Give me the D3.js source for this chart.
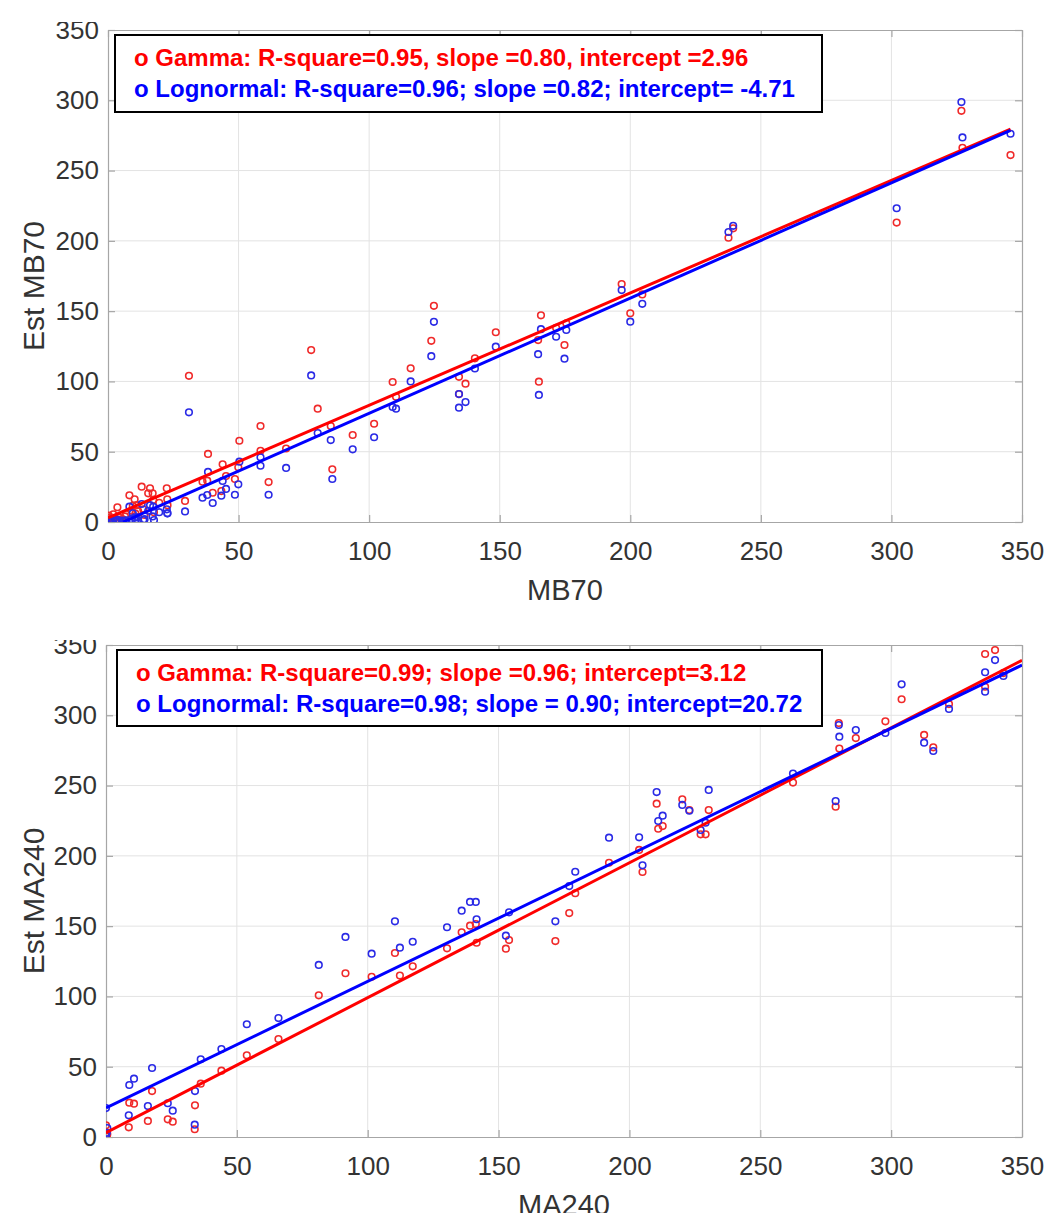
<!DOCTYPE html>
<html>
<head>
<meta charset="utf-8">
<script src="https://cdn.jsdelivr.net/npm/d3@7"></script>
<style>
  body { margin: 0; background: #fff; }
  svg { display: block; font-family: "Liberation Sans", Arial, sans-serif; }
</style>
</head>
<body>
<svg id="chart" width="1050" height="1213"></svg>
<script>
// ---- data ----
let ticks = [0, 50, 100, 150, 200, 250, 300, 350];

// top panel: MB70 observed vs estimates
let mb70 = [0.3, 0.5, 1, 1.5, 2, 3, 3.6, 4.5, 5.5, 6.5, 7, 8.2, 9, 9.5, 10.2, 10.5, 11, 11.5, 12.9, 13.5,
  14, 15.4, 16.1, 17.1, 17.3, 17.6, 19.6, 22.5, 22.7, 22.8, 29.5, 31, 36.2, 38, 38.3, 40.1, 43.9, 45.2,
  43.4, 48.6, 49.9, 50.3, 58.4, 58.4, 61.5, 68.2, 77.8, 80.3, 85.3, 85.9, 93.7, 101.9, 109, 110.3,
  115.9, 123.8, 124.8, 134.4, 134.4, 136.9, 140.5, 148.5, 164.7, 165, 165.8, 171.6, 174.8, 175.5,
  196.7, 200, 204.6, 237.6, 239.4, 302, 326.8, 327.2, 345.6];
let mb70Gamma = [4.5, 3, 2, 1.2, 5.5, 1.5, 10.5, 3, 2, 4, 5.5, 19, 8, 11.4, 16.1, 6, 12, 8, 25.1, 9,
  5, 20.4, 24, 20.4, 15.6, 7, 13.7, 24, 16.1, 12, 15, 104, 28.7, 29.4, 48.4, 20.8, 41, 32.7,
  22, 30.6, 38.9, 57.8, 68.3, 50.7, 28.4, 52.3, 122.3, 80.6, 68.3, 37.5, 61.9, 69.9, 99.6, 89.1,
  109.3, 128.9, 153.8, 103.3, 91, 98.4, 116.4, 135, 129.4, 99.8, 147, 138.2, 125.9, 141.4,
  169.3, 148.5, 161.9, 202.2, 208.9, 213, 292.5, 266.2, 261];
let mb70Lognormal = [0.8, 0.5, 0.3, 0.2, 1, 0.4, 1.5, 0.6, 1, 0.8, 1.2, 10.9, 2, 6.2, 3.3, 1.5, 3.3, 1, 12.8, 1.4,
  2, 8, 12, 4, 10.9, 1.4, 7, 9, 6.2, 6.2, 7.5, 78, 17.3, 19.2, 35.6, 13.5, 29.2, 23.5,
  18.7, 19.4, 26.8, 42.9, 46, 40, 19.4, 38.5, 104.3, 63.3, 58.3, 30.6, 51.7, 60.3, 81.8, 80.6,
  100, 118, 142.4, 81.3, 91, 85.3, 109.2, 124.7, 119.4, 90.4, 137.2, 131.8, 116.2, 136.6,
  165, 142.5, 155.2, 206.3, 210.7, 223.2, 298.7, 273.6, 276.2];

// bottom panel: MA240 observed vs estimates
let ma240 = [0, 0.5, 0, 0.3, 8.7, 8.9, 10.7, 17.6, 16, 23.6, 25.5, 34, 33.9, 36.2, 44.1, 53.8, 65.9,
  81.3, 91.5, 101.5, 110.4, 112.3, 117.2, 130.3, 135.9, 139.1, 141.3, 141.6, 152.8, 154, 171.7,
  177, 179.3, 192.2, 203.7, 205, 210.4, 211, 212.7, 220.2, 222.9, 230.3, 227.2, 229.1, 262.5,
  278.8, 280, 280.2, 286.5, 297.8, 304, 312.6, 316.1, 322.1, 335.9, 335.9, 339.7, 342.9];
let ma240Gamma = [8.3, 2.1, 0.5, 1, 6.9, 24.4, 23.7, 32.7, 11.4, 12.6, 10.9, 22.5, 5.5, 37.9, 47.2, 58.1, 69.7,
  100.8, 116.5, 114, 130.9, 114.8, 121.4, 134.2, 145.6, 150.3, 151.5, 138.2, 134, 140.1, 139.4,
  159.3, 173.4, 195.1, 204.2, 188.5, 237.1, 219.3, 221.2, 240.2, 232.6, 232.6, 215.3, 215.3, 252.1,
  235, 294.5, 276.3, 283.8, 295.7, 311.4, 286, 277.2, 308, 343.6, 320.3, 346.4, 330];
let ma240Lognormal = [20.6, 6.4, 1.2, 3, 15.4, 37, 41.5, 49.1, 22, 24, 18.7, 32.7, 8.8, 55.3, 62.6, 80.2, 84.6,
  122.4, 142.3, 130.4, 153.4, 134.7, 138.9, 149.2, 161, 167.2, 167.2, 154.9, 143.2, 159.8, 153.4,
  178.5, 188.7, 212.9, 213.2, 193.3, 245.4, 224.8, 228.6, 236.2, 232.1, 246.9, 218.4, 223.6, 258.5,
  239, 293.1, 284.8, 289.5, 287.4, 322, 280.5, 274.6, 304.5, 330.6, 316.8, 339.3, 328];

// fitted lines [slope, intercept]
let mb70GammaFit = [0.80, 2.96];
let mb70LognormalFit = [0.82, -4.71];
let ma240GammaFit = [0.96, 3.12];
let ma240LognormalFit = [0.90, 20.72];

let mb70Legend = ["o Gamma: R-square=0.95, slope =0.80, intercept =2.96",
  "o Lognormal: R-square=0.96; slope =0.82; intercept= -4.71"];
let ma240Legend = ["o Gamma: R-square=0.99; slope =0.96; intercept=3.12",
  "o Lognormal: R-square=0.98; slope = 0.90; intercept=20.72"];

let svg = d3.select("#chart");
let red = "#ff0000", blue = "#0000ff";

function drawPanel(p) {
  let x = d3.scaleLinear().domain([0, 350]).range([p.left, p.right]);
  let y = d3.scaleLinear().domain([0, 350]).range([p.bottom, p.top]);
  let g = svg.append("g");

  // grid
  g.append("g").selectAll("line").data(ticks.slice(1, -1)).enter().append("line")
    .attr("x1", d => x(d)).attr("x2", d => x(d))
    .attr("y1", p.top).attr("y2", p.bottom)
    .attr("stroke", "#e3e3e3").attr("stroke-width", 1);
  g.append("g").selectAll("line").data(ticks.slice(1, -1)).enter().append("line")
    .attr("y1", d => y(d)).attr("y2", d => y(d))
    .attr("x1", p.left).attr("x2", p.right)
    .attr("stroke", "#e3e3e3").attr("stroke-width", 1);

  // axes (MATLAB style box, ticks inside)
  let ax = g.append("g").attr("transform", "translate(0," + p.bottom + ")")
    .call(d3.axisBottom(x).tickValues(ticks).tickSizeInner(-7).tickSizeOuter(0));
  let ay = g.append("g").attr("transform", "translate(" + p.left + ",0)")
    .call(d3.axisLeft(y).tickValues(ticks).tickSizeInner(-7).tickSizeOuter(0).tickPadding(10));
  g.append("g").attr("transform", "translate(0," + p.top + ")")
    .call(d3.axisTop(x).tickValues(ticks).tickSizeInner(-7).tickSizeOuter(0).tickFormat(""));
  g.append("g").attr("transform", "translate(" + p.right + ",0)")
    .call(d3.axisRight(y).tickValues(ticks).tickSizeInner(-7).tickSizeOuter(0).tickFormat(""));
  g.selectAll(".domain, .tick line").attr("stroke", "#a6a6a6").attr("stroke-width", 1.2);
  g.selectAll(".tick text").attr("fill", "#333").style("font-size", "26px");
  ax.selectAll(".tick text").attr("dy", "0.35em").attr("y", 29);
  ay.selectAll(".tick text").attr("x", -9);

  // clip the marks to the axes box
  let clipId = "clip" + p.id;
  svg.append("clipPath").attr("id", clipId).append("rect")
    .attr("x", p.left).attr("y", p.top).attr("width", p.right - p.left).attr("height", p.bottom - p.top);
  let plot = g.append("g").attr("clip-path", "url(#" + clipId + ")");

  // points: gamma first then lognormal
  plot.append("g").selectAll("circle").data(p.xs).enter().append("circle")
    .attr("cx", d => x(d)).attr("cy", (d, i) => y(p.gamma[i])).attr("r", 3.3)
    .attr("fill", "none").attr("stroke", "#f02a2a").attr("stroke-width", 1.6);
  plot.append("g").selectAll("circle").data(p.xs).enter().append("circle")
    .attr("cx", d => x(d)).attr("cy", (d, i) => y(p.lognormal[i])).attr("r", 3.3)
    .attr("fill", "none").attr("stroke", "#2a2ae6").attr("stroke-width", 1.6);

  // fitted lines
  [[p.gammaFit, red], [p.lognormalFit, blue]].forEach(function (f) {
    let x0 = Math.max(p.fitRange[0], f[0][1] < 0 ? -f[0][1] / f[0][0] : 0);
    let x1 = p.fitRange[1];
    plot.append("line")
      .attr("x1", x(x0)).attr("y1", y(f[0][0] * x0 + f[0][1]))
      .attr("x2", x(x1)).attr("y2", y(f[0][0] * x1 + f[0][1]))
      .attr("stroke", f[1]).attr("stroke-width", 3);
  });

  // legend
  let lg = g.append("g");
  lg.append("rect").attr("x", p.legend[0]).attr("y", p.legend[1])
    .attr("width", p.legend[2]).attr("height", p.legend[3])
    .attr("fill", "#fff").attr("stroke", "#000").attr("stroke-width", 2);
  p.legendText.forEach(function (t, i) {
    lg.append("text").attr("x", p.legend[0] + 19).attr("y", p.legend[1] + 23 + i * 31)
      .attr("dy", "0.35em").attr("fill", i == 0 ? red : blue)
      .style("font-size", "24px").style("font-weight", "bold").text(t);
  });

  // axis labels
  g.append("text").attr("x", (p.left + p.right) / 2).attr("y", p.bottom + 68)
    .attr("text-anchor", "middle").attr("dy", "0.35em").attr("fill", "#333")
    .style("font-size", "29px").text(p.xLabel);
  g.append("text").attr("transform", "translate(33," + ((p.top + p.bottom) / 2 + 10) + ") rotate(-90)")
    .attr("text-anchor", "middle").attr("dy", "0.35em").attr("fill", "#333")
    .style("font-size", "30px").text(p.yLabel);
}

drawPanel({
  id: 1, left: 108, right: 1022, top: 30, bottom: 522,
  xs: mb70, gamma: mb70Gamma, lognormal: mb70Lognormal,
  gammaFit: mb70GammaFit, lognormalFit: mb70LognormalFit, fitRange: [0, d3.max(mb70)],
  legend: [115, 35, 707, 77], legendText: mb70Legend,
  xLabel: "MB70", yLabel: "Est MB70"
});

drawPanel({
  id: 2, left: 106, right: 1022, top: 645, bottom: 1137,
  xs: ma240, gamma: ma240Gamma, lognormal: ma240Lognormal,
  gammaFit: ma240GammaFit, lognormalFit: ma240LognormalFit, fitRange: [0, 350],
  legend: [117, 650, 705, 76], legendText: ma240Legend,
  xLabel: "MA240", yLabel: "Est MA240"
});

// the picture is cropped above each panel
svg.append("rect").attr("x", 0).attr("y", 0).attr("width", 1050).attr("height", 22).attr("fill", "#fff");
svg.append("rect").attr("x", 0).attr("y", 608).attr("width", 1050).attr("height", 32).attr("fill", "#fff");
</script>
</body>
</html>
